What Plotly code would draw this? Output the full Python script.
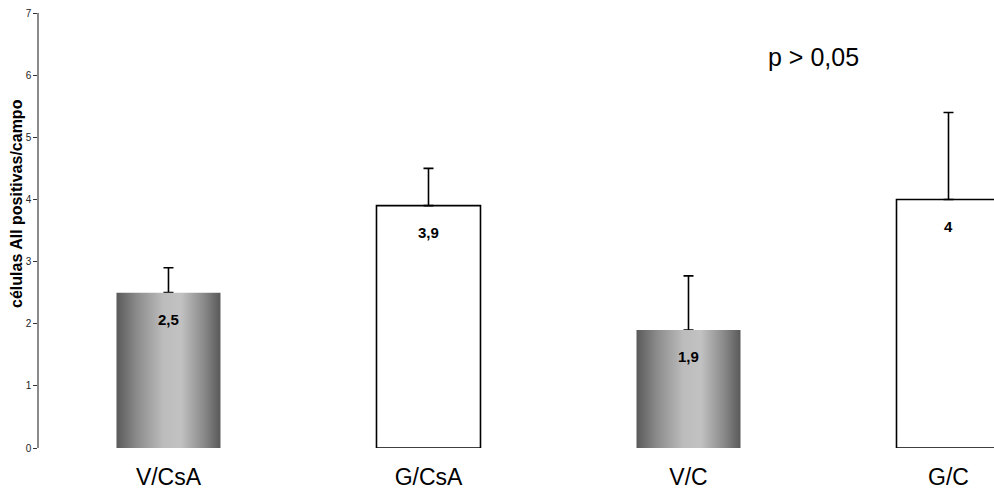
import plotly.graph_objects as go

# Group means and upper error (SD) for AII-positive cells per field
categories = ["V/CsA", "G/CsA", "V/C", "G/C"]
means = [2.5, 3.9, 1.9, 4.0]
errors = [0.4, 0.6, 0.87, 1.4]
# Vehicle groups use a shaded fill, the G groups are plain white
shaded = [True, False, True, False]
y_ticks = [0, 1, 2, 3, 4, 5, 6, 7]

FONT = "Arial, Liberation Sans, sans-serif"
BAR_W = 0.4
positions = list(range(len(categories)))

fig = go.Figure()

fig.add_trace(go.Bar(
    x=positions,
    y=means,
    width=BAR_W,
    marker=dict(
        color=["rgba(0,0,0,0)" if s else "white" for s in shaded],
        line=dict(color="black", width=[0 if s else 1.6 for s in shaded]),
    ),
    error_y=dict(
        type="data",
        symmetric=False,
        array=errors,
        arrayminus=[0] * len(errors),
        color="black",
        thickness=1.6,
        width=5,
    ),
    hoverinfo="skip",
    showlegend=False,
))

# Shaded bars: horizontal dark-light-dark gradient
gradient = [
    [0.0, "#5a5a5a"],
    [0.2, "#8c8c8c"],
    [0.45, "#bcbcbc"],
    [0.62, "#c2c2c2"],
    [0.85, "#878787"],
    [1.0, "#595959"],
]
for pos, val, s in zip(positions, means, shaded):
    if not s:
        continue
    left, right = pos - BAR_W / 2, pos + BAR_W / 2
    fig.add_trace(go.Scatter(
        x=[left, right, right, left, left],
        y=[0, 0, val, val, 0],
        mode="none",
        fill="toself",
        fillgradient=dict(type="horizontal", colorscale=gradient),
        hoverinfo="skip",
        showlegend=False,
    ))

# Value labels just inside the top of each bar
for pos, val in zip(positions, means):
    fig.add_annotation(
        x=pos, y=val, xref="x", yref="y",
        text=f"{val:g}".replace(".", ","),
        showarrow=False, yshift=-27,
        font=dict(family=FONT, size=15, color="black", weight="bold"),
    )

fig.add_annotation(
    x=0.8115, y=0.899, xref="paper", yref="paper",
    text="p > 0,05", showarrow=False,
    xanchor="center", yanchor="middle",
    font=dict(family=FONT, size=25, color="black"),
)

fig.add_annotation(
    x=0, y=0.561, xref="paper", yref="paper",
    text="células AII positivas/campo", textangle=-90,
    showarrow=False, xanchor="center", yanchor="middle", xshift=-22,
    font=dict(family=FONT, size=16, color="black", weight="bold"),
)

fig.update_layout(
    width=994, height=493,
    margin=dict(l=39, r=0, t=13, b=45),
    paper_bgcolor="white",
    plot_bgcolor="white",
    bargap=0.6,
    xaxis=dict(
        range=[-0.498, 3.175],
        tickmode="array",
        tickvals=positions,
        ticktext=categories,
        showline=False, showgrid=False, zeroline=False, ticks="",
        ticklabelstandoff=13,
        tickfont=dict(family=FONT, size=23, color="black"),
    ),
    yaxis=dict(
        range=[0, 7],
        tickmode="array",
        tickvals=y_ticks,
        ticktext=[str(t) for t in y_ticks],
        showline=True, linecolor="#8a8a8a", linewidth=1.5,
        ticks="outside", ticklen=4, tickcolor="#333333", tickwidth=1,
        showgrid=False, zeroline=False,
        tickfont=dict(family=FONT, size=10, color="#222222"),
    ),
)

fig.write_html("out.html")
